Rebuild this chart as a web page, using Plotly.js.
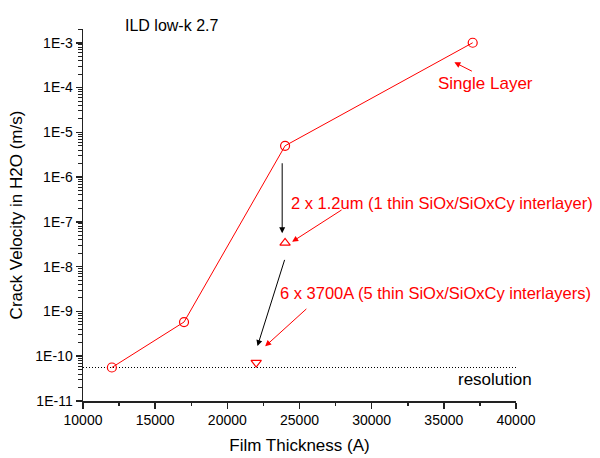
<!DOCTYPE html>
<html>
<head>
<meta charset="utf-8">
<script src="https://cdn.plot.ly/plotly-3.0.1.min.js"></script>
<style>html,body{margin:0;padding:0;background:#fff;}#chart{width:600px;height:458px;}</style>
</head>
<body>
<div id="chart"></div>
<script>
// Data
const singleX = [12000, 17000, 24000, 37000];
const singleY = [5.6e-11, 5.8e-10, 5.0e-6, 1.0e-3];
const twoLayerX = [24000];
const twoLayerY = [3.4e-8];
const sixLayerX = [22000];
const sixLayerY = [7.2e-11];
const resolutionX = [10000, 40000];
const resolutionY = [5.6e-11, 5.6e-11];
const yTickVals = [1e-11, 1e-10, 1e-9, 1e-8, 1e-7, 1e-6, 1e-5, 1e-4, 1e-3];
const yTickText = ["1E-11", "1E-10", "1E-9", "1E-8", "1E-7", "1E-6", "1E-5", "1E-4", "1E-3"];
const xTickVals = [10000, 15000, 20000, 25000, 30000, 35000, 40000];
const xTickText = ["10000", "15000", "20000", "25000", "30000", "35000", "40000"];
const xMinorVals = [12500, 17500, 22500, 27500, 32500, 37500];

// minor tick positions on the log axis (2..9 within each decade)
const yMinorVals = [];
for (let e = -11; e <= -3; e++) for (let m = 2; m <= 9; m++) yMinorVals.push(m * Math.pow(10, e));

const red = '#ff0000';
const font = 'Liberation Sans, Arial, sans-serif';
const axisColor = '#222';

const traces = [
  {x: resolutionX, y: resolutionY, mode: 'lines', line: {color: '#000', width: 1, dash: '1px,2px'}, hoverinfo: 'skip'},
  {x: singleX, y: singleY, mode: 'lines+markers', line: {color: red, width: 1},
   marker: {symbol: 'circle-open', size: 9, color: red, line: {width: 1.2, color: red}}},
  {x: twoLayerX, y: twoLayerY, mode: 'markers',
   marker: {symbol: 'triangle-up-open', size: 9, color: red, line: {width: 1.2, color: red}}},
  {x: sixLayerX, y: sixLayerY, mode: 'markers',
   marker: {symbol: 'triangle-down-open', size: 9, color: red, line: {width: 1.2, color: red}}},
  // invisible trace carrying the minor-tick overlay axes
  {x: resolutionX, y: resolutionY, xaxis: 'x2', yaxis: 'y2', mode: 'lines',
   line: {color: 'rgba(0,0,0,0)', width: 0}, hoverinfo: 'skip'}
];

function arrow(hx, hy, tx, ty, color) {
  return {x: hx, y: Math.log10(hy), ax: tx, ay: Math.log10(ty), xref: 'x', yref: 'y', axref: 'x', ayref: 'y',
          text: '', showarrow: true, arrowhead: 2, arrowsize: 1.2, arrowwidth: 1, arrowcolor: color};
}
function label(x, y, text, color, size) {
  return {x: x, y: Math.log10(y), xref: 'x', yref: 'y', text: text, showarrow: false,
          xanchor: 'left', yanchor: 'middle', font: {family: font, size: size || 16.5, color: color}};
}

const layout = {
  width: 600, height: 458,
  margin: {l: 83, r: 84, t: 29, b: 57},
  paper_bgcolor: '#fff', plot_bgcolor: '#fff',
  showlegend: false,
  font: {family: font, color: '#000'},
  xaxis: {
    range: [10000, 40000], tickmode: 'array', tickvals: xTickVals, ticktext: xTickText,
    showline: true, linecolor: axisColor, linewidth: 1.5, mirror: false,
    ticks: 'outside', ticklen: 6, tickwidth: 1.5, tickcolor: axisColor,
    showgrid: false, zeroline: false,
    tickfont: {family: font, size: 14, color: '#000'},
    title: {text: 'Film Thickness (A)', font: {family: font, size: 17, color: '#000'}, standoff: 12}
  },
  yaxis: {
    type: 'log', range: [-11, -2.693], tickmode: 'array', tickvals: yTickVals, ticktext: yTickText,
    showline: true, linecolor: axisColor, linewidth: 1.5, mirror: false,
    ticks: 'outside', ticklen: 6, tickwidth: 1.5, tickcolor: axisColor,
    showgrid: false, zeroline: false,
    tickfont: {family: font, size: 14, color: '#000'},
    title: {text: 'Crack Velocity in H2O (m/s)', font: {family: font, size: 17, color: '#000'}, standoff: 8}
  },
  xaxis2: {
    overlaying: 'x', anchor: 'y', side: 'bottom', range: [10000, 40000],
    tickmode: 'array', tickvals: xMinorVals, showticklabels: false,
    ticks: 'outside', ticklen: 4, tickwidth: 1.5, tickcolor: axisColor,
    showline: false, showgrid: false, zeroline: false
  },
  yaxis2: {
    overlaying: 'y', anchor: 'x', side: 'left', type: 'log', range: [-11, -2.693],
    tickmode: 'array', tickvals: yMinorVals, showticklabels: false,
    ticks: 'outside', ticklen: 4, tickwidth: 1, tickcolor: axisColor,
    showline: false, showgrid: false, zeroline: false
  },
  annotations: [
    {x: 0.205, y: 1.01, xref: 'paper', yref: 'paper', yanchor: 'middle', xanchor: 'center',
     text: 'ILD low-k 2.7', showarrow: false, font: {family: font, size: 16, color: '#000'}},
    arrow(23800, 5.6e-8, 23800, 2.2e-6, '#000'),
    arrow(22090, 1.69e-10, 24000, 1.53e-8, '#000'),
    arrow(35730, 3.66e-4, 37046, 2.23e-4, red),
    arrow(24490, 3.6e-8, 28020, 1.94e-7, red),
    arrow(22620, 1.66e-10, 25580, 1.22e-9, red),
    label(34480, 1.22e-4, 'Single Layer', red, 17),
    label(24250, 2.68e-7, '2 x 1.2um (1 thin SiOx/SiOxCy interlayer)', red),
    label(23480, 2.6e-9, '6 x 3700A (5 thin SiOx/SiOxCy interlayers)', red),
    label(35850, 3.03e-11, 'resolution', '#000', 17)
  ]
};

Plotly.newPlot('chart', traces, layout, {staticPlot: true, displayModeBar: false});
</script>
</body>
</html>
